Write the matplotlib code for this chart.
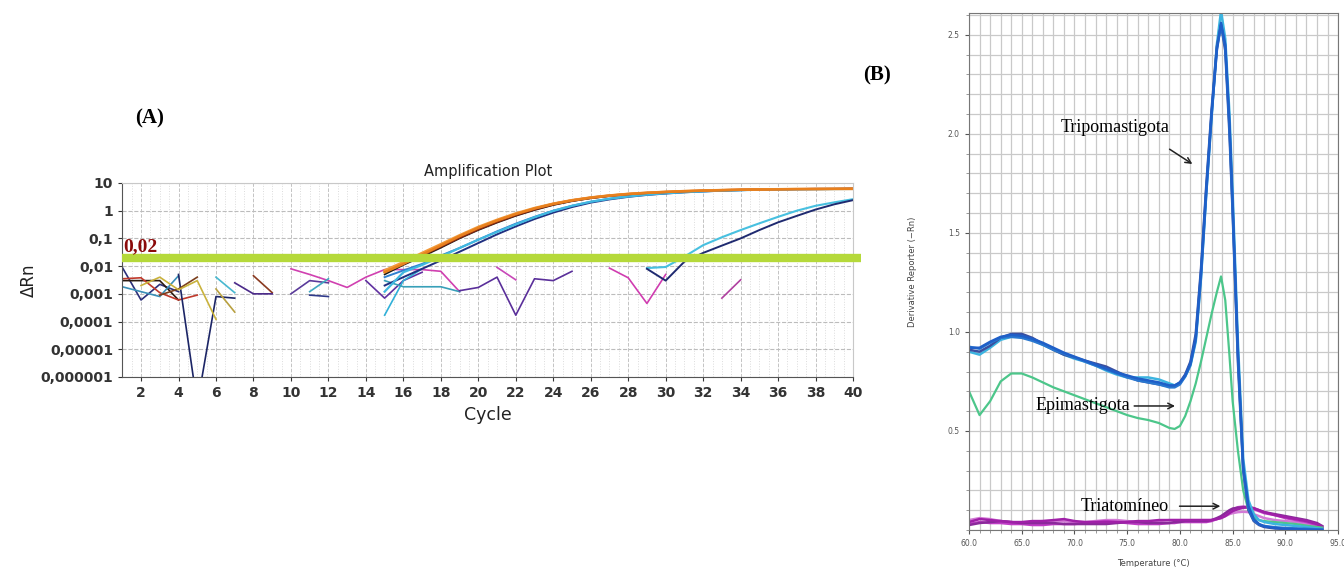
import matplotlib
matplotlib.use("Agg")
import matplotlib.pyplot as plt
from matplotlib.ticker import FixedLocator, MultipleLocator, NullFormatter

# ---- panel A: amplification plot (cycle vs delta Rn, log scale) ----
threshold = 0.02
a_yticks = [1e-6, 1e-5, 1e-4, 1e-3, 1e-2, 1e-1, 1, 10]
a_yticklabels = ["0,000001", "0,00001", "0,0001", "0,001", "0,01", "0,1", "1", "10"]
a_xticks = list(range(2, 41, 2))

early_cycles = list(range(15, 41))
early_orange = [0.006, 0.012, 0.026, 0.055, 0.12, 0.24, 0.44, 0.75, 1.2, 1.75, 2.35, 2.95, 3.5,
                4.0, 4.4, 4.75, 5.05, 5.3, 5.5, 5.7, 5.8, 5.9, 6.0, 6.0, 6.1, 6.1]
early_orange2 = [0.007, 0.014, 0.03, 0.062, 0.13, 0.26, 0.47, 0.8, 1.25, 1.8, 2.4, 3.0, 3.55,
                 4.05, 4.45, 4.8, 5.1, 5.35, 5.55, 5.75, 5.85, 5.95, 6.05, 6.1, 6.15, 6.2]
early_red = [0.007, 0.013, 0.028, 0.058, 0.12, 0.25, 0.45, 0.77, 1.2, 1.8, 2.4, 3.0, 3.55,
             4.05, 4.45, 4.8, 5.1, 5.4, 5.6, 5.8, 5.9, 6.0, 6.1, 6.2, 6.2, 6.3]
early_brown = [0.006, 0.012, 0.024, 0.05, 0.105, 0.21, 0.39, 0.68, 1.1, 1.65, 2.25, 2.85, 3.4,
               3.9, 4.3, 4.65, 4.95, 5.25, 5.45, 5.65, 5.8, 5.9, 6.0, 6.05, 6.1, 6.15]
early_black = [0.005, 0.011, 0.022, 0.046, 0.1, 0.2, 0.37, 0.65, 1.05, 1.6, 2.2, 2.8, 3.35,
               3.85, 4.3, 4.7, 5.0, 5.3, 5.5, 5.7, 5.9, 6.0, 6.1, 6.2, 6.2, 6.3]
early_blue = [0.004, 0.007, 0.012, 0.024, 0.045, 0.09, 0.18, 0.34, 0.6, 1.0, 1.5, 2.1, 2.7,
              3.3, 3.8, 4.3, 4.7, 5.0, 5.3, 5.5, 5.7, 5.85, 5.95, 6.0, 6.05, 6.1]
early_cyan = [0.0012, 0.006, 0.011, 0.022, 0.045, 0.09, 0.17, 0.32, 0.58, 0.98, 1.5, 2.1, 2.7,
              3.25, 3.8, 4.25, 4.65, 5.0, 5.3, 5.5, 5.7, 5.85, 5.95, 6.0, 6.05, 6.1]
early_navy = [0.002, 0.004, 0.008, 0.016, 0.033, 0.068, 0.14, 0.27, 0.5, 0.85, 1.35, 1.95, 2.55,
              3.15, 3.7, 4.15, 4.6, 4.95, 5.25, 5.5, 5.7, 5.85, 5.95, 6.0, 6.05, 6.1]

late_cycles = list(range(29, 41))
late_cyan = [0.0085, 0.0093, 0.022, 0.057, 0.11, 0.2, 0.35, 0.6, 1.0, 1.5, 2.0, 2.6]
late_navy = [0.008, 0.003, 0.0145, 0.03, 0.055, 0.1, 0.2, 0.38, 0.65, 1.1, 1.7, 2.4]

# background noise below threshold: (cycles, values)
noise_cycles = [
    [1, 2, 3, 4], [1, 2, 3, 4], [1, 2, 3, 4, 5], [1, 2, 3, 4], [4, 5, 6, 7],
    [3, 4, 5], [2, 3, 4, 5, 6], [6, 7], [6, 7], [8, 9], [7, 8, 9], [10, 11, 12],
    [10, 11, 12, 13, 14, 15, 16, 17, 18, 19], [11, 12], [11, 12], [14, 15, 16, 17],
    [15, 16, 17], [15, 16, 17, 18, 19], [19, 20, 21, 22, 23, 24, 25], [21, 22],
    [27, 28, 29, 30], [33, 34],
]
noise_values = [
    [0.009, 0.0006, 0.0022, 0.0012],
    [0.003, 0.003, 0.003, 0.0006],
    [0.0035, 0.0038, 0.0011, 0.0006, 0.0009],
    [0.0018, 0.0012, 0.0008, 0.0045],
    [0.005, 1e-7, 0.0008, 0.0007],
    [0.0009, 0.0015, 0.004],
    [0.002, 0.004, 0.0014, 0.003, 0.00012],
    [0.0015, 0.00022],
    [0.004, 0.0011],
    [0.0045, 0.0011],
    [0.0025, 0.001, 0.001],
    [0.001, 0.003, 0.0025],
    [0.008, 0.005, 0.003, 0.0017, 0.004, 0.0075, 0.0075, 0.0075, 0.0065, 0.0012],
    [0.0012, 0.0035],
    [0.0009, 0.0008],
    [0.003, 0.0007, 0.003, 0.006],
    [0.00017, 0.003, 0.008],
    [0.003, 0.0018, 0.0018, 0.0018, 0.0012],
    [0.0013, 0.0017, 0.004, 0.00017, 0.0035, 0.003, 0.0065],
    [0.009, 0.0032],
    [0.0085, 0.0038, 0.00045, 0.005],
    [0.0007, 0.0032],
]
noise_colors = ["#2b2f7a", "#2a1a10", "#c0392b", "#3a8fb7", "#1c2566", "#7b3f1d",
                "#c9b23c", "#b8a040", "#48b8d0", "#8a3a20", "#4b2a8a", "#5a3a9a",
                "#d040b0", "#40a8c0", "#303a8a", "#6030a0", "#30b0d8", "#38a0b8",
                "#5a2f9a", "#c848b8", "#d03cb0", "#b040a0"]

# ---- panel B: melt curves (derivative reporter vs temperature) ----
temp = [60, 61, 62, 63, 64, 65, 66, 67, 68, 69, 70, 71, 72, 73, 74, 75, 76, 77, 78, 79, 79.5,
        80, 80.5, 81, 81.5, 82, 82.5, 83, 83.5, 83.9, 84.3, 84.7, 85, 85.5, 86, 86.5, 87,
        87.5, 88, 89, 90, 91, 92, 93, 93.5]

tripo_1 = [0.92, 0.92, 0.95, 0.975, 0.985, 0.98, 0.965, 0.945, 0.92, 0.895, 0.875, 0.855, 0.835,
           0.815, 0.795, 0.78, 0.765, 0.755, 0.745, 0.73, 0.73, 0.745, 0.78, 0.84, 0.97, 1.3,
           1.72, 2.1, 2.42, 2.56, 2.45, 2.05, 1.65, 0.9, 0.32, 0.12, 0.055, 0.03, 0.018, 0.01,
           0.006, 0.004, 0.002, 0.0, 0.0]
tripo_2 = [0.91, 0.90, 0.93, 0.97, 0.99, 0.99, 0.97, 0.94, 0.91, 0.885, 0.87, 0.855, 0.84,
           0.825, 0.80, 0.775, 0.755, 0.745, 0.735, 0.725, 0.725, 0.745, 0.785, 0.85, 0.99, 1.32,
           1.74, 2.12, 2.44, 2.55, 2.42, 2.0, 1.6, 0.85, 0.3, 0.1, 0.045, 0.025, 0.015, 0.008,
           0.005, 0.003, 0.002, 0.0, 0.0]
tripo_3 = [0.90, 0.885, 0.92, 0.96, 0.975, 0.975, 0.96, 0.935, 0.91, 0.885, 0.865, 0.85, 0.83,
           0.805, 0.785, 0.77, 0.77, 0.77, 0.76, 0.74, 0.73, 0.74, 0.775, 0.83, 0.95, 1.27,
           1.7, 2.08, 2.45, 2.62, 2.48, 2.1, 1.7, 0.95, 0.36, 0.15, 0.08, 0.05, 0.04, 0.03,
           0.025, 0.02, 0.015, 0.008, 0.005]
tripo_4 = [0.925, 0.915, 0.945, 0.97, 0.975, 0.97, 0.955, 0.935, 0.91, 0.89, 0.87, 0.85, 0.83,
           0.81, 0.79, 0.77, 0.755, 0.745, 0.735, 0.72, 0.72, 0.735, 0.775, 0.835, 0.96, 1.28,
           1.7, 2.09, 2.43, 2.55, 2.44, 2.03, 1.62, 0.88, 0.31, 0.11, 0.05, 0.028, 0.02, 0.014,
           0.01, 0.008, 0.006, 0.003, 0.002]
epi = [0.70, 0.58, 0.65, 0.75, 0.79, 0.79, 0.77, 0.745, 0.72, 0.70, 0.68, 0.66, 0.64, 0.62,
       0.60, 0.58, 0.565, 0.555, 0.54, 0.515, 0.51, 0.525, 0.575, 0.65, 0.74, 0.85, 0.97, 1.09,
       1.2, 1.28, 1.16, 0.88, 0.65, 0.4, 0.2, 0.1, 0.065, 0.05, 0.045, 0.04, 0.035, 0.03,
       0.022, 0.015, 0.012]
tria_1 = [0.04, 0.055, 0.05, 0.045, 0.04, 0.04, 0.045, 0.045, 0.05, 0.055, 0.045, 0.04, 0.04,
          0.04, 0.04, 0.04, 0.045, 0.045, 0.05, 0.05, 0.05, 0.05, 0.05, 0.05, 0.05, 0.05, 0.05,
          0.05, 0.055, 0.06, 0.07, 0.085, 0.095, 0.105, 0.112, 0.115, 0.11, 0.1, 0.09, 0.075,
          0.065, 0.055, 0.045, 0.03, 0.015]
tria_2 = [0.03, 0.04, 0.035, 0.035, 0.03, 0.03, 0.025, 0.025, 0.03, 0.03, 0.03, 0.035, 0.04,
          0.045, 0.04, 0.035, 0.03, 0.03, 0.03, 0.035, 0.035, 0.04, 0.04, 0.04, 0.04, 0.04, 0.04,
          0.045, 0.055, 0.065, 0.08, 0.095, 0.105, 0.115, 0.118, 0.115, 0.105, 0.095, 0.085,
          0.075, 0.06, 0.05, 0.04, 0.025, 0.01]
tria_3 = [0.05, 0.06, 0.055, 0.045, 0.04, 0.035, 0.04, 0.045, 0.045, 0.045, 0.04, 0.04, 0.045,
          0.05, 0.05, 0.045, 0.04, 0.04, 0.045, 0.05, 0.05, 0.05, 0.05, 0.05, 0.05, 0.05, 0.05,
          0.05, 0.055, 0.06, 0.07, 0.08, 0.085, 0.09, 0.092, 0.09, 0.08, 0.07, 0.06, 0.05,
          0.045, 0.04, 0.03, 0.02, 0.01]
tria_4 = [0.025, 0.035, 0.04, 0.045, 0.04, 0.035, 0.035, 0.035, 0.035, 0.03, 0.03, 0.03, 0.03,
          0.03, 0.035, 0.04, 0.04, 0.035, 0.035, 0.035, 0.04, 0.04, 0.045, 0.045, 0.045, 0.045,
          0.045, 0.05, 0.06, 0.07, 0.085, 0.1, 0.108, 0.112, 0.115, 0.115, 0.11, 0.1, 0.09,
          0.08, 0.07, 0.06, 0.05, 0.035, 0.02]


def draw_amplification(ax):
    ax.set_yscale("log")
    ax.set_xlim(1, 40)
    ax.set_ylim(1e-6, 10)

    ax.yaxis.set_major_locator(FixedLocator(a_yticks))
    ax.set_yticklabels(a_yticklabels)
    ax.yaxis.set_minor_formatter(NullFormatter())
    ax.set_xticks(a_xticks)
    ax.xaxis.set_minor_locator(MultipleLocator(0.5))

    ax.grid(True, which="major", axis="y", color="#bcbcbc", linestyle="--", linewidth=0.8)
    ax.grid(True, which="minor", axis="y", color="#d6d6d6", linestyle="--", linewidth=0.6)
    ax.grid(True, which="major", axis="x", color="#c4c4c4", linestyle="--", linewidth=0.7)
    ax.grid(True, which="minor", axis="x", color="#dcdcdc", linestyle=":", linewidth=0.7)
    ax.set_axisbelow(True)

    for cyc, vals, col in zip(noise_cycles, noise_values, noise_colors):
        ax.plot(cyc, vals, color=col, linewidth=1.2)

    # drawn back to front: dark lines first so the orange band stays visible
    early = [(early_black, "#1a1a1a", 1.2), (early_navy, "#203080", 1.4),
             (early_blue, "#2f7fd0", 1.4), (early_cyan, "#40b8e0", 1.6),
             (early_brown, "#8b2a10", 1.4), (early_red, "#c0281c", 1.3),
             (early_orange2, "#f29a3a", 1.8), (early_orange, "#e8801e", 1.8)]
    for vals, col, lw in early:
        ax.plot(early_cycles, vals, color=col, linewidth=lw)
    ax.plot(late_cycles, late_cyan, color="#48c0e0", linewidth=1.5)
    ax.plot(late_cycles, late_navy, color="#1f2a70", linewidth=1.4)

    ax.plot([1, 40.4], [threshold, threshold], color="#b5d93a", linewidth=6,
            solid_capstyle="butt", clip_on=False, zorder=5)
    ax.text(1.05, threshold * 1.25, "0,02", color="#8b0a0a", fontsize=14, fontweight="bold",
            family="Liberation Serif", va="bottom", ha="left", zorder=6)

    ax.tick_params(axis="both", which="major", labelsize=10, colors="#333333", length=3)
    ax.tick_params(axis="both", which="minor", length=0)
    for lab in ax.get_xticklabels() + ax.get_yticklabels():
        lab.set_fontweight("bold")
    for side in ["top", "right"]:
        ax.spines[side].set_color("#c8c8c8")
    for side in ["left", "bottom"]:
        ax.spines[side].set_color("#555555")

    ax.set_title("Amplification Plot", fontsize=10.5, color="#222222", pad=5)
    ax.set_xlabel("Cycle", fontsize=12.5, color="#222222", labelpad=4)
    ax.set_ylabel("\u0394Rn", fontsize=12, color="#222222", labelpad=2)


def draw_melt(ax):
    ax.set_xlim(60, 95)
    ax.set_ylim(0, 2.61)
    ax.set_xticks([60, 65, 70, 75, 80, 85, 90, 95])
    ax.set_xticklabels(["60.0", "65.0", "70.0", "75.0", "80.0", "85.0", "90.0", "95.0"])
    ax.set_yticks([0.5, 1.0, 1.5, 2.0, 2.5])
    ax.set_yticklabels(["0.5", "1.0", "1.5", "2.0", "2.5"])
    ax.xaxis.set_minor_locator(MultipleLocator(1))
    ax.yaxis.set_minor_locator(MultipleLocator(0.1))
    ax.grid(True, which="both", color="#c9c9c9", linewidth=0.9)
    ax.set_axisbelow(True)

    for vals, col in [(tria_3, "#d37ad6"), (tria_2, "#c03cc6"), (tria_4, "#8a2a9a"),
                      (tria_1, "#a020a8")]:
        ax.plot(temp, vals, color=col, linewidth=1.8)
    ax.plot(temp, epi, color="#4cc68a", linewidth=1.6)
    for vals, col in [(tripo_3, "#3cb4e0"), (tripo_2, "#3a4fa0"), (tripo_4, "#2a78d0"),
                      (tripo_1, "#1f5fc8")]:
        ax.plot(temp, vals, color=col, linewidth=1.8)

    ax.tick_params(axis="both", which="major", labelsize=5.5, colors="#555555", length=3)
    ax.tick_params(axis="both", which="minor", length=2, colors="#888888")
    for side in ax.spines:
        ax.spines[side].set_color("#777777")
    ax.set_xlabel("Temperature (\u00b0C)", fontsize=6, color="#444444", labelpad=8)
    ax.set_ylabel("Derivative Reporter (\u2212Rn)", fontsize=6, color="#444444", labelpad=22)

    serif = "Liberation Serif"
    ax.text(73.9, 2.03, "Tripomastigota", family=serif, fontsize=13, ha="center", va="center")
    ax.annotate("", xy=(81.4, 1.84), xytext=(78.8, 1.93),
                arrowprops=dict(arrowstyle="->", color="#222222", lw=1.1))
    ax.text(75.3, 0.626, "Epimastigota", family=serif, fontsize=13, ha="right", va="center")
    ax.annotate("", xy=(79.8, 0.626), xytext=(75.4, 0.626),
                arrowprops=dict(arrowstyle="->", color="#222222", lw=1.1))
    ax.text(78.9, 0.12, "Triatomíneo", family=serif, fontsize=13, ha="right", va="center")
    ax.annotate("", xy=(84.1, 0.12), xytext=(79.7, 0.12),
                arrowprops=dict(arrowstyle="->", color="#222222", lw=1.1))


def main():
    fig = plt.figure(figsize=(13.44, 5.67), dpi=100)
    ax_a = fig.add_axes([0.0910, 0.3351, 0.5437, 0.3422])
    ax_b = fig.add_axes([0.7210, 0.0653, 0.2746, 0.9118])

    draw_amplification(ax_a)
    draw_melt(ax_b)

    fig.text(150 / 1344, 1 - 118 / 567, "(A)", family="Liberation Serif", fontsize=15,
             fontweight="bold", ha="center", va="center")
    fig.text(877 / 1344, 1 - 75 / 567, "(B)", family="Liberation Serif", fontsize=15,
             fontweight="bold", ha="center", va="center")

    fig.savefig("out.png", dpi=100)


if __name__ == "__main__":
    main()
